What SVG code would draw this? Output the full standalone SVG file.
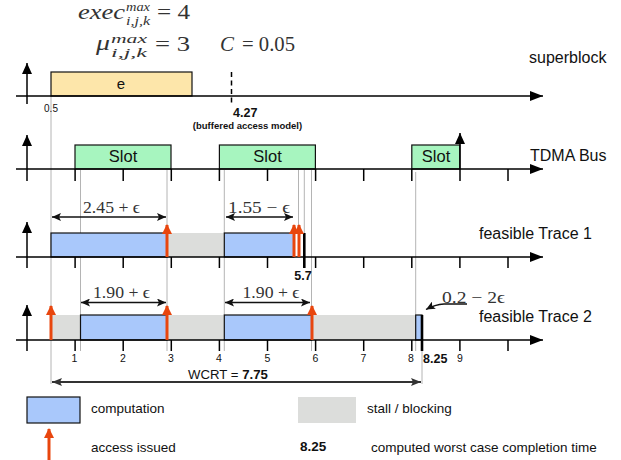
<svg xmlns="http://www.w3.org/2000/svg" width="621" height="460" viewBox="0 0 621 460">
<style>
.ax{stroke:#000;stroke-width:1.5;fill:none}
.tk{stroke:#000;stroke-width:1.5}
.gl{stroke:#b4b4b4;stroke-width:1;fill:none}
.box{stroke:#111;stroke-width:1.2}
.comp{fill:#a9c8fb}
.stall{fill:#dcdddb}
.slot{fill:#a7f5bf}
.oa{stroke:#e8460e;stroke-width:3;fill:none}
.dim{stroke:#111;stroke-width:1.4;fill:none}
.bar{stroke:#000;stroke-width:2.6}
.sans{font-family:"Liberation Sans",Arial,sans-serif;fill:#111}
.math{font-family:"Liberation Serif","DejaVu Serif",serif;fill:#333}
.it{font-style:italic}
.b{font-weight:bold}
</style>
<defs>
<marker id="ah" markerUnits="userSpaceOnUse" markerWidth="14" markerHeight="10" refX="13" refY="5" orient="auto"><path d="M0,0 L13,5 L0,10 z" fill="#000"/></marker>
<marker id="vh" markerUnits="userSpaceOnUse" markerWidth="12" markerHeight="10" refX="11" refY="5" orient="auto"><path d="M0,0 L11,5 L0,10 z" fill="#000"/></marker>
<marker id="dh" markerUnits="userSpaceOnUse" markerWidth="10" markerHeight="8" refX="9" refY="4" orient="auto-start-reverse"><path d="M0,0 L9,4 L0,8 L2,4 z" fill="#111"/></marker>
<marker id="wh" markerUnits="userSpaceOnUse" markerWidth="11" markerHeight="8" refX="10" refY="4" orient="auto-start-reverse"><path d="M0,0 L10,4 L0,8 L2,4 z" fill="#333"/></marker>
<marker id="oh" markerUnits="userSpaceOnUse" markerWidth="11" markerHeight="11" refX="9" refY="5" orient="auto"><path d="M0,0 L10,5 L0,10 z" fill="#e8460e"/></marker>
</defs>

<!-- formulas -->
<g id="formulas">
<text class="math it" x="78" y="19" font-size="20" textLength="47" lengthAdjust="spacingAndGlyphs">exec</text>
<text class="math it" x="126" y="11" font-size="12" textLength="24" lengthAdjust="spacingAndGlyphs">max</text>
<text class="math it" x="126" y="25" font-size="12" textLength="24" lengthAdjust="spacingAndGlyphs">i,j,k</text>
<text class="math" x="157" y="19" font-size="20" textLength="33" lengthAdjust="spacingAndGlyphs">= 4</text>
<text class="math it" x="96" y="50" font-size="21" textLength="14" lengthAdjust="spacingAndGlyphs">μ</text>
<text class="math it" x="111" y="43" font-size="13" textLength="36" lengthAdjust="spacingAndGlyphs">max</text>
<text class="math it" x="111" y="57" font-size="13" textLength="36" lengthAdjust="spacingAndGlyphs">i,j,k</text>
<text class="math" x="155" y="51" font-size="21" textLength="35" lengthAdjust="spacingAndGlyphs">= 3</text>
<text class="math it" x="220" y="51" font-size="21" textLength="14" lengthAdjust="spacingAndGlyphs">C</text>
<text class="math" x="242" y="51" font-size="21" textLength="53" lengthAdjust="spacingAndGlyphs">= 0.05</text>
</g>

<!-- guide lines -->
<g id="guides">
<line class="gl" x1="51" y1="96" x2="51" y2="384"/>
<line class="gl" x1="80.5" y1="170" x2="80.5" y2="351"/>
<line class="gl" x1="167" y1="170" x2="167" y2="351"/>
<line class="gl" x1="224.3" y1="170" x2="224.3" y2="351"/>
<line class="gl" x1="298.5" y1="170" x2="298.5" y2="257"/>
<line class="gl" x1="304.3" y1="170" x2="304.3" y2="233"/>
<line class="gl" x1="311.5" y1="170" x2="311.5" y2="351"/>
<line class="gl" x1="415.7" y1="172" x2="415.7" y2="351"/>
<line class="gl" x1="422" y1="350" x2="422" y2="384"/>
</g>

<!-- superblock row -->
<g id="superblock">
<rect class="box" x="51" y="72" width="141" height="24" fill="#fde6aa"/>
<text class="sans" x="121" y="89" font-size="15" text-anchor="middle">e</text>
<line x1="231.5" y1="72" x2="231.5" y2="104" stroke="#000" stroke-width="1.5" stroke-dasharray="5,3.5"/>
<text class="sans" x="51" y="112" font-size="10" text-anchor="middle" fill="#222">0.5</text>
<text class="sans b" x="233" y="117" font-size="12.5">4.27</text>
<text class="sans b" x="247.5" y="129" font-size="9.5" text-anchor="middle">(buffered access model)</text>
<text class="sans" x="529" y="63" font-size="16">superblock</text>
</g>

<!-- TDMA bus row -->
<g id="tdma-bus">
<rect class="box slot" x="75" y="145" width="96" height="24"/>
<rect class="box slot" x="219.4" y="145" width="96" height="24"/>
<rect class="box slot" x="411.8" y="145" width="48" height="24"/>
<text class="sans" x="123" y="162" font-size="16.5" text-anchor="middle">Slot</text>
<text class="sans" x="267.5" y="162" font-size="16.5" text-anchor="middle">Slot</text>
<text class="sans" x="436" y="162" font-size="16.5" text-anchor="middle">Slot</text>
<text class="sans" x="530" y="161" font-size="16">TDMA Bus</text>
</g>

<!-- trace 1 -->
<g id="trace1">
<rect class="box comp" x="51" y="233" width="116" height="24"/>
<rect class="stall" x="167" y="233" width="57.3" height="24"/>
<rect class="box comp" x="224.3" y="233" width="69.5" height="24"/>
<text class="sans" x="479" y="239" font-size="16">feasible Trace 1</text>
<text class="sans b" x="303" y="280" font-size="12.5" text-anchor="middle">5.7</text>
</g>

<!-- trace 2 -->
<g id="trace2">
<rect class="stall" x="51" y="315" width="365" height="25"/>
<rect class="box comp" x="80.5" y="315" width="86.5" height="25"/>
<rect class="box comp" x="224.3" y="315" width="87.4" height="25"/>
<rect class="box comp" x="415.7" y="315" width="6.3" height="25"/>
<text class="sans" x="479" y="321.5" font-size="16">feasible Trace 2</text>
<g class="sans" font-size="10.5" text-anchor="middle" fill="#222">
<text x="74.5" y="362">1</text><text x="123" y="362">2</text><text x="171" y="362">3</text><text x="219" y="362">4</text><text x="267.5" y="362">5</text><text x="315.5" y="362">6</text><text x="363.5" y="362">7</text><text x="411" y="362">8</text><text x="460" y="362">9</text>
</g>
<text class="sans b" x="423" y="363" font-size="12.5">8.25</text>
</g>

<!-- connectors: axes, ticks, arrows -->
<g id="connectors">
<line class="ax" x1="16" y1="96" x2="543" y2="96" marker-end="url(#ah)"/>
<line class="ax" x1="16" y1="169" x2="543" y2="169" marker-end="url(#ah)"/>
<line class="ax" x1="16" y1="257" x2="543" y2="257" marker-end="url(#ah)"/>
<line class="ax" x1="16" y1="340" x2="543" y2="340" marker-end="url(#ah)"/>
<line class="ax" x1="27" y1="104" x2="27" y2="63" marker-end="url(#vh)"/>
<line class="ax" x1="27" y1="181" x2="27" y2="135" marker-end="url(#vh)"/>
<line class="ax" x1="27" y1="268" x2="27" y2="222" marker-end="url(#vh)"/>
<line class="ax" x1="27" y1="351" x2="27" y2="305" marker-end="url(#vh)"/>
<line class="ax" x1="460" y1="181" x2="460" y2="133" marker-end="url(#vh)"/>
<g class="tk">
<line x1="75.1" y1="169" x2="75.1" y2="181"/><line x1="123.2" y1="169" x2="123.2" y2="181"/><line x1="171.3" y1="169" x2="171.3" y2="181"/><line x1="219.4" y1="169" x2="219.4" y2="181"/><line x1="267.5" y1="169" x2="267.5" y2="181"/><line x1="315.6" y1="169" x2="315.6" y2="181"/><line x1="363.7" y1="169" x2="363.7" y2="181"/><line x1="411.8" y1="169" x2="411.8" y2="181"/><line x1="508" y1="169" x2="508" y2="181"/>
<line x1="75.1" y1="257" x2="75.1" y2="268"/><line x1="123.2" y1="257" x2="123.2" y2="268"/><line x1="171.3" y1="257" x2="171.3" y2="268"/><line x1="219.4" y1="257" x2="219.4" y2="268"/><line x1="267.5" y1="257" x2="267.5" y2="268"/><line x1="315.6" y1="257" x2="315.6" y2="268"/><line x1="363.7" y1="257" x2="363.7" y2="268"/><line x1="411.8" y1="257" x2="411.8" y2="268"/><line x1="459.9" y1="257" x2="459.9" y2="268"/><line x1="508" y1="257" x2="508" y2="268"/>
<line x1="75.1" y1="340" x2="75.1" y2="351"/><line x1="123.2" y1="340" x2="123.2" y2="351"/><line x1="171.3" y1="340" x2="171.3" y2="351"/><line x1="219.4" y1="340" x2="219.4" y2="351"/><line x1="267.5" y1="340" x2="267.5" y2="351"/><line x1="315.6" y1="340" x2="315.6" y2="351"/><line x1="363.7" y1="340" x2="363.7" y2="351"/><line x1="411.8" y1="340" x2="411.8" y2="351"/><line x1="459.9" y1="340" x2="459.9" y2="351"/><line x1="508" y1="340" x2="508" y2="351"/>
</g>
<!-- completion bars -->
<line class="bar" x1="304.3" y1="233" x2="304.3" y2="268"/>
<line class="bar" x1="422" y1="315" x2="422" y2="351"/>
<!-- access arrows -->
<line class="oa" x1="167" y1="257" x2="167" y2="225" marker-end="url(#oh)"/>
<line class="oa" x1="294" y1="257" x2="294" y2="225" marker-end="url(#oh)"/>
<line class="oa" x1="299" y1="257" x2="299" y2="225" marker-end="url(#oh)"/>
<line class="oa" x1="51" y1="340" x2="51" y2="306" marker-end="url(#oh)"/>
<line class="oa" x1="167" y1="340" x2="167" y2="306" marker-end="url(#oh)"/>
<line class="oa" x1="312" y1="340" x2="312" y2="306" marker-end="url(#oh)"/>
<!-- dimension arrows -->
<line class="dim" x1="52" y1="217" x2="166" y2="217" marker-start="url(#dh)" marker-end="url(#dh)"/>
<line class="dim" x1="226" y1="217" x2="293" y2="217" marker-start="url(#dh)" marker-end="url(#dh)"/>
<line class="dim" x1="81" y1="302.5" x2="166" y2="302.5" marker-start="url(#dh)" marker-end="url(#dh)"/>
<line class="dim" x1="225" y1="302.5" x2="310" y2="302.5" marker-start="url(#dh)" marker-end="url(#dh)"/>
<path class="dim" d="M467,304 L444,304 Q435,304.5 426,309.5" marker-end="url(#dh)"/>
<line x1="52" y1="382" x2="421" y2="382" stroke="#333" stroke-width="2" marker-start="url(#wh)" marker-end="url(#wh)"/>
</g>

<!-- dimension labels -->
<g id="dim-labels">
<text class="math" x="111.5" y="213" font-size="17" text-anchor="middle" textLength="57" lengthAdjust="spacingAndGlyphs">2.45 + ϵ</text>
<text class="math" x="259" y="213" font-size="17" text-anchor="middle" textLength="62" lengthAdjust="spacingAndGlyphs">1.55 − ϵ</text>
<text class="math" x="121.5" y="297.5" font-size="17" text-anchor="middle" textLength="57" lengthAdjust="spacingAndGlyphs">1.90 + ϵ</text>
<text class="math" x="271" y="297.5" font-size="17" text-anchor="middle" textLength="57" lengthAdjust="spacingAndGlyphs">1.90 + ϵ</text>
<text class="math" x="442" y="302.5" font-size="17" textLength="63" lengthAdjust="spacingAndGlyphs">0.2 − 2ϵ</text>
<text class="sans" x="228" y="379" font-size="13.2" text-anchor="middle">WCRT = <tspan class="b">7.75</tspan></text>
</g>

<!-- legend -->
<g id="legend">
<rect class="box comp" x="27" y="397" width="53" height="26"/>
<text class="sans" x="91" y="413" font-size="13.5">computation</text>
<rect class="stall" x="298" y="397" width="58" height="26"/>
<text class="sans" x="367" y="413" font-size="13.5">stall / blocking</text>
<line class="oa" x1="49" y1="460" x2="49" y2="429" marker-end="url(#oh)"/>
<text class="sans" x="91" y="452" font-size="13.5">access issued</text>
<text class="sans b" x="300" y="451" font-size="13.5">8.25</text>
<text class="sans" x="371" y="452" font-size="13.5">computed worst case completion time</text>
</g>
</svg>
